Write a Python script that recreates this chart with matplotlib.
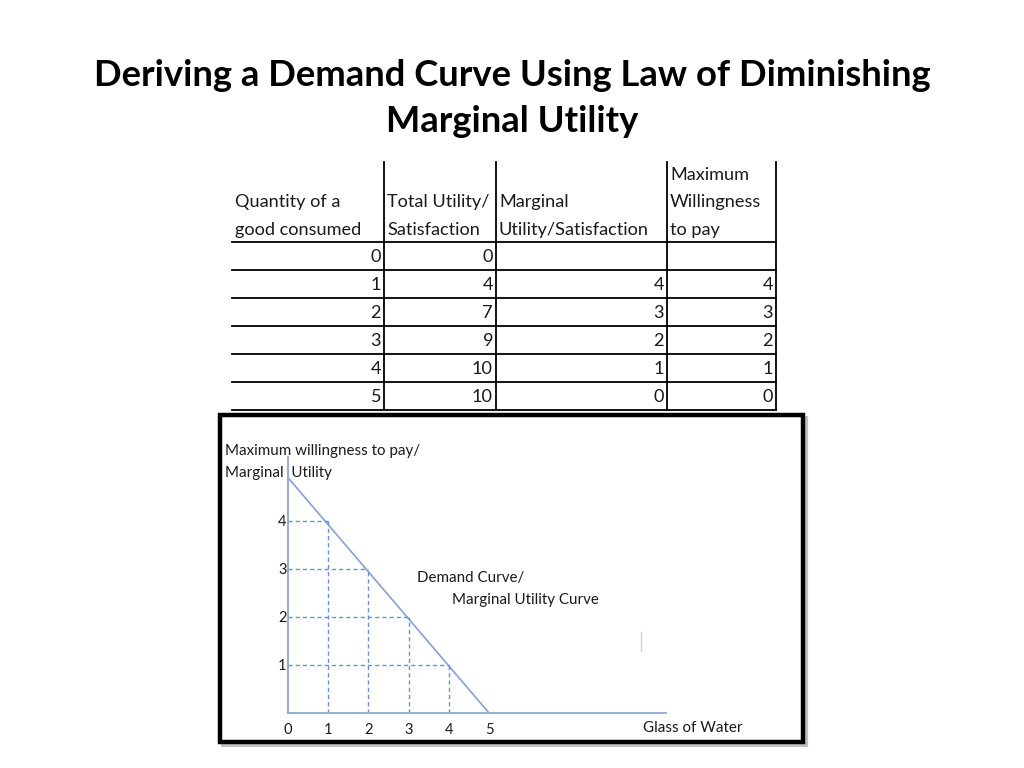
import matplotlib.pyplot as plt
from matplotlib.patches import Rectangle

plt.rcParams['font.family'] = ['Lato', 'DejaVu Sans']

# table data
headers = [["Quantity of a", "good consumed"],
           ["Total Utility/", "Satisfaction"],
           ["Marginal", "Utility/Satisfaction"],
           ["Maximum", "Willingness", "to pay"]]
quantity = [0, 1, 2, 3, 4, 5]
total_utility = [0, 4, 7, 9, 10, 10]
marginal_utility = [None, 4, 3, 2, 1, 0]
max_wtp = [None, 4, 3, 2, 1, 0]

# chart data
curve_q = [0, 5]
curve_p = [4.9, 0]
guide_q = [1, 2, 3, 4]
guide_p = [4, 3, 2, 1]
x_ticks = [0, 1, 2, 3, 4, 5]
y_ticks = [1, 2, 3, 4]

W, H = 1024, 768
fig = plt.figure(figsize=(W / 100, H / 100), dpi=100)

# background axes in pixel units (origin top-left)
bg = fig.add_axes([0, 0, 1, 1])
bg.set_xlim(0, W)
bg.set_ylim(H, 0)
bg.axis("off")

fig.text(0.5, 1 - 76 / H, "Deriving a Demand Curve Using Law of Diminishing",
         ha="center", va="center", fontsize=26.2, fontweight="bold")
fig.text(0.5, 1 - 121 / H, "Marginal Utility",
         ha="center", va="center", fontsize=26.2, fontweight="bold")

# table grid
col_edges = [232, 384, 496, 667, 776]
top, head_bottom, row_h = 162, 242, 28
n_rows = len(quantity)
bottom = head_bottom + n_rows * row_h
for x in col_edges[1:]:
    bg.plot([x, x], [top, bottom], color="black", lw=1.3)
for i in range(n_rows + 1):
    y = head_bottom + i * row_h
    bg.plot([col_edges[0], col_edges[-1]], [y, y], color="black", lw=1.3)

# headers, bottom aligned
txt = "#1a1a1a"
line_gap = 27.5
for c, lines in enumerate(headers):
    for k, line in enumerate(reversed(lines)):
        bg.text(col_edges[c] + 3, 230 - k * line_gap, line, ha="left",
                va="center", fontsize=13.1, color=txt)

columns = [quantity, total_utility, marginal_utility, max_wtp]
for c, col in enumerate(columns):
    for r, v in enumerate(col):
        if v is None:
            continue
        bg.text(col_edges[c + 1] - 3, head_bottom + (r + 0.55) * row_h, str(v),
                ha="right", va="center", fontsize=13.1, color=txt)

# chart frame with shadow
bg.add_patch(Rectangle((223, 418), 583, 327, facecolor="none",
                       edgecolor="#9a9a9a", lw=3, alpha=0.6))
bg.add_patch(Rectangle((220, 415), 583, 327, facecolor="white",
                       edgecolor="black", lw=3.2))
bg.plot([641, 641], [632, 651], color="#d0d0d0", lw=1)

# chart axes
x0, x1 = 288, 666
y0, y1 = 713, 457
ax = fig.add_axes([x0 / W, 1 - y0 / H, (x1 - x0) / W, (y0 - y1) / H])
ax.set_facecolor("none")
ax.set_xlim(0, 9.4)
ax.set_ylim(0, 5.33)
for s in ["top", "right"]:
    ax.spines[s].set_visible(False)
for s in ["left", "bottom"]:
    ax.spines[s].set_color("#8ea6cf")
    ax.spines[s].set_linewidth(1.3)

blue = "#86a2d0"
ax.plot(curve_q, curve_p, color=blue, lw=1.2)
for q, p in zip(guide_q, guide_p):
    ax.plot([0, q], [p, p], color="#6d8fcc", lw=1, ls=(0, (3, 2.2)))
    ax.plot([q, q], [0, p], color="#6d8fcc", lw=1, ls=(0, (3, 2.2)))

ax.set_xticks(x_ticks)
ax.set_xticklabels([str(t) for t in x_ticks])
ax.set_yticks(y_ticks)
ax.set_yticklabels([str(t) for t in y_ticks])
ax.tick_params(length=0, labelsize=10.5, colors=txt)
ax.tick_params(axis="x", pad=7)
ax.tick_params(axis="y", pad=1)

fs = 10.9
bg.text(225, 451, "Maximum willingness to pay/", ha="left", va="center",
        fontsize=fs, color=txt)
bg.text(225, 473, "Marginal  Utility", ha="left", va="center",
        fontsize=fs, color=txt)
bg.text(417, 578, "Demand Curve/", ha="left", va="center",
        fontsize=fs, color=txt)
bg.text(452, 600, "Marginal Utility Curve", ha="left", va="center",
        fontsize=fs, color=txt)
bg.text(643, 728, "Glass of Water", ha="left", va="center",
        fontsize=fs, color=txt)

fig.savefig("out.png", dpi=100)
